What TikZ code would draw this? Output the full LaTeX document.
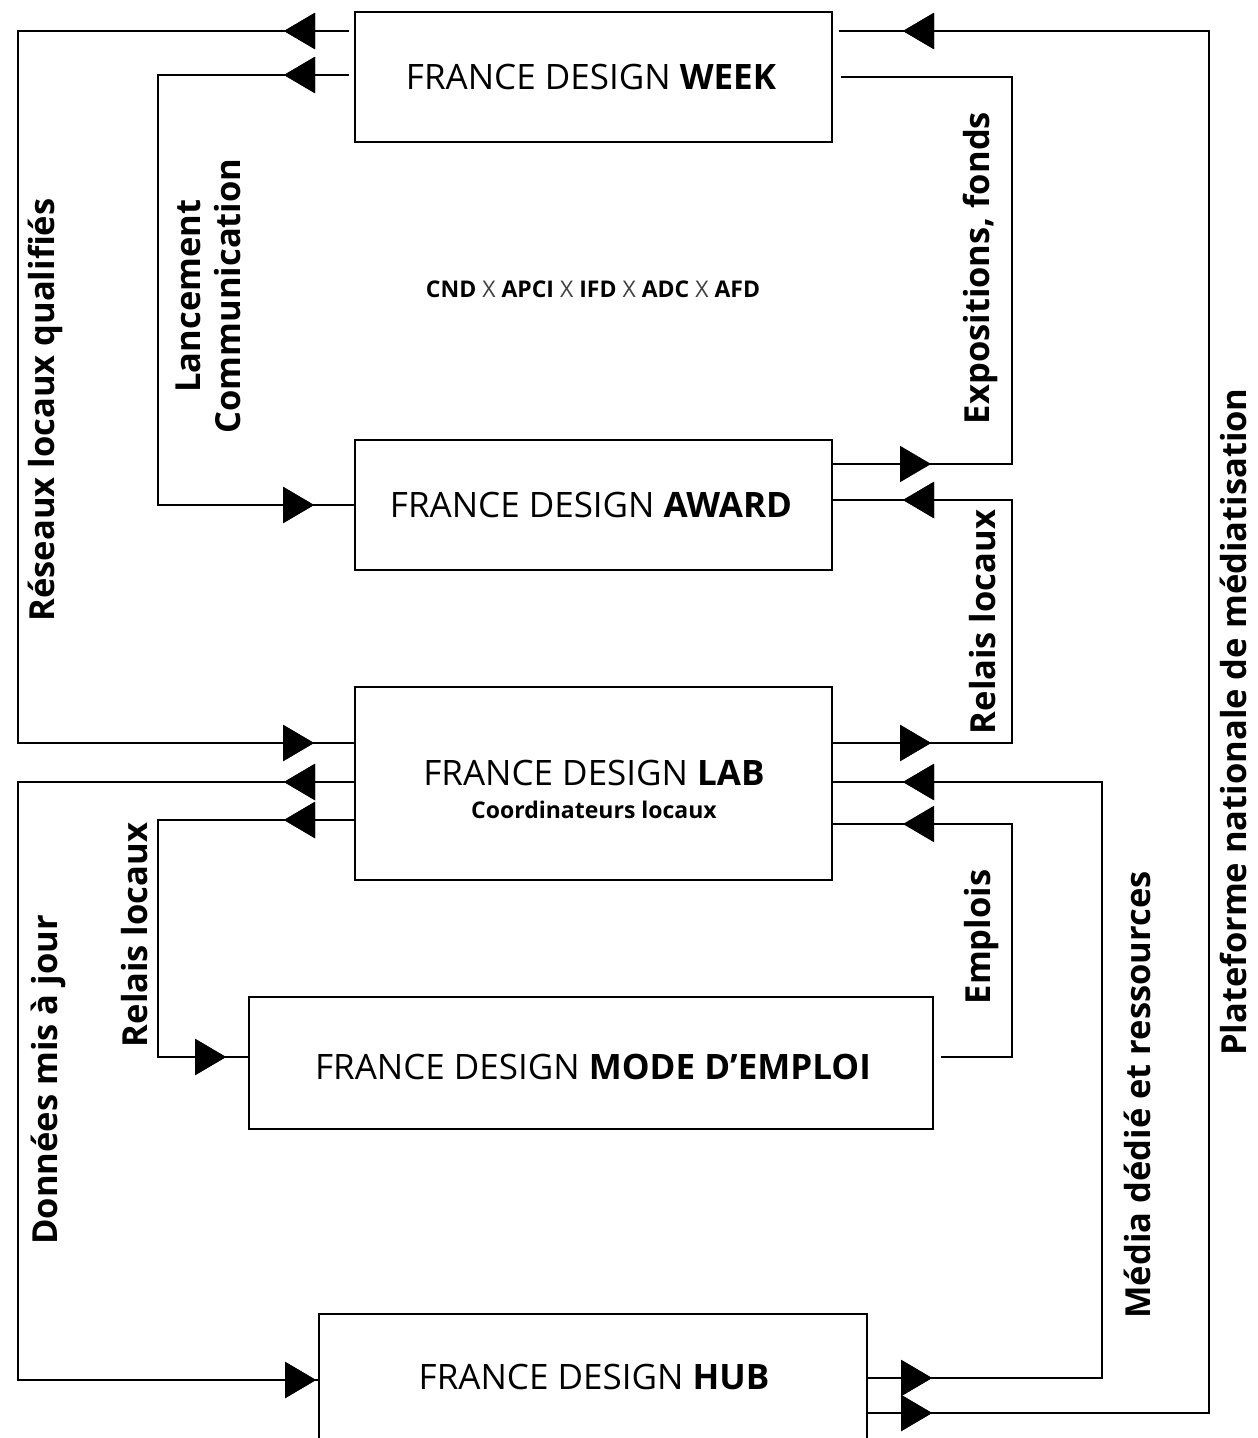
\documentclass[tikz,border=0pt]{standalone}
\usepackage{fontspec}
\setmainfont{Open Sans}
\usetikzlibrary{arrows.meta,decorations.markings}
\tikzset{
  box/.style={draw,line width=2pt,inner sep=0pt,fill=none},
  conn/.style={line width=2pt,line join=miter},
  tri/.tip={Triangle[length=31pt,width=36pt]},
  title/.style={font=\fontsize{35}{42}\selectfont,inner sep=0pt},
  side/.style={font=\bfseries\fontsize{34.5}{40}\selectfont,rotate=90,inner sep=0pt,align=center},
  fwd/.style={postaction={decorate},decoration={markings,mark=at position #1 with {\arrow{tri}}}},
}
\begin{document}
\begin{tikzpicture}[x=1pt,y=-1pt]
\useasboundingbox (0,0) rectangle (1258,1438);
\clip (0,0) rectangle (1258,1438);
% boxes
\node[box,minimum width=477pt,minimum height=130pt] (week) at (593.5,77) {};
\node[box,minimum width=477pt,minimum height=130pt] (award) at (593.5,505) {};
\node[box,minimum width=477pt,minimum height=193pt] (lab) at (593.5,783.5) {};
\node[box,minimum width=684pt,minimum height=132pt] (mode) at (591,1063) {};
\node[box,minimum width=548pt,minimum height=150pt] (hub) at (593,1389) {};
% box texts
\node[title] (weekt) at (591,77) {FRANCE DESIGN \textbf{WEEK}};
\node[title] (awardt) at (591,505) {FRANCE DESIGN \textbf{AWARD}};
\node[title] (labt) at (594,773) {FRANCE DESIGN \textbf{LAB}};
\node[font=\bfseries\fontsize{23}{27}\selectfont,inner sep=0pt] (labs) at (594,810) {Coordinateurs locaux};
\node[title] (modet) at (593,1067) {FRANCE DESIGN \textbf{MODE D’EMPLOI}};
\node[title] (hubt) at (594,1377) {FRANCE DESIGN \textbf{HUB}};
\node[font=\fontsize{23}{27}\selectfont,inner sep=0pt] (partners) at (593,289) {\textbf{CND} {\color{black!75}X} \textbf{APCI} {\color{black!75}X} \textbf{IFD} {\color{black!75}X} \textbf{ADC} {\color{black!75}X} \textbf{AFD}};
% connectors
\coordinate (c1a) at (18,31); \coordinate (c1b) at (18,743);
\draw[conn,fwd=70pt,fwd=-40pt,shorten <=5pt] (week.west |- 0,31) -- (c1a) -- (c1b) -- (lab.west |- 0,743);
\coordinate (c2a) at (158,75); \coordinate (c2b) at (158,505);
\draw[conn,fwd=70pt,fwd=-40pt,shorten <=5pt] (week.west |- 0,75) -- (c2a) -- (c2b) -- (award.west |- 0,505);
\coordinate (c3a) at (1209,1413); \coordinate (c3b) at (1209,31);
\draw[conn,fwd=64pt,fwd=-70pt,shorten >=6pt] (hub.east |- 0,1413) -- (c3a) -- (c3b) -- (week.east |- 0,31);
\coordinate (c4a) at (1012,464); \coordinate (c4b) at (1012,77);
\draw[conn,fwd=98pt,shorten >=8pt] (award.east |- 0,464) -- (c4a) -- (c4b) -- (week.east |- 0,77);
\coordinate (c5a) at (1012,743); \coordinate (c5b) at (1012,500);
\draw[conn,fwd=98pt,fwd=-70pt] (lab.east |- 0,743) -- (c5a) -- (c5b) -- (award.east |- 0,500);
\coordinate (c6a) at (1102,1378); \coordinate (c6b) at (1102,782);
\draw[conn,fwd=64pt,fwd=-70pt] (hub.east |- 0,1378) -- (c6a) -- (c6b) -- (lab.east |- 0,782);
\coordinate (c7a) at (1012,1057); \coordinate (c7b) at (1012,824);
\draw[conn,fwd=-70pt,shorten <=7pt] (mode.east |- 0,1057) -- (c7a) -- (c7b) -- (lab.east |- 0,824);
\coordinate (c8a) at (18,782); \coordinate (c8b) at (18,1380);
\draw[conn,fwd=70pt,fwd=-2pt] (lab.west |- 0,782) -- (c8a) -- (c8b) -- (hub.west |- 0,1380);
\coordinate (c9a) at (158,820); \coordinate (c9b) at (158,1057);
\draw[conn,fwd=70pt,fwd=-22pt] (lab.west |- 0,820) -- (c9a) -- (c9b) -- (mode.west |- 0,1057);
% connector labels
\node[side] (l1) at (45,410) {Réseaux locaux qualifiés};
\node[side] (l2) at (208,296) {Lancement\\Communication};
\node[side] (l3) at (1233,722) {Plateforme nationale de médiatisation};
\node[side] (l4) at (980,268) {Expositions, fonds};
\node[side] (l5) at (983,622) {Relais locaux};
\node[side] (l6) at (1137,1095) {Média dédié et ressources};
\node[side] (l7) at (982,937) {Emplois};
\node[side] (l8) at (48,1080) {Données mis à jour};
\node[side] (l9) at (135,935) {Relais locaux};
\end{tikzpicture}
\end{document}
